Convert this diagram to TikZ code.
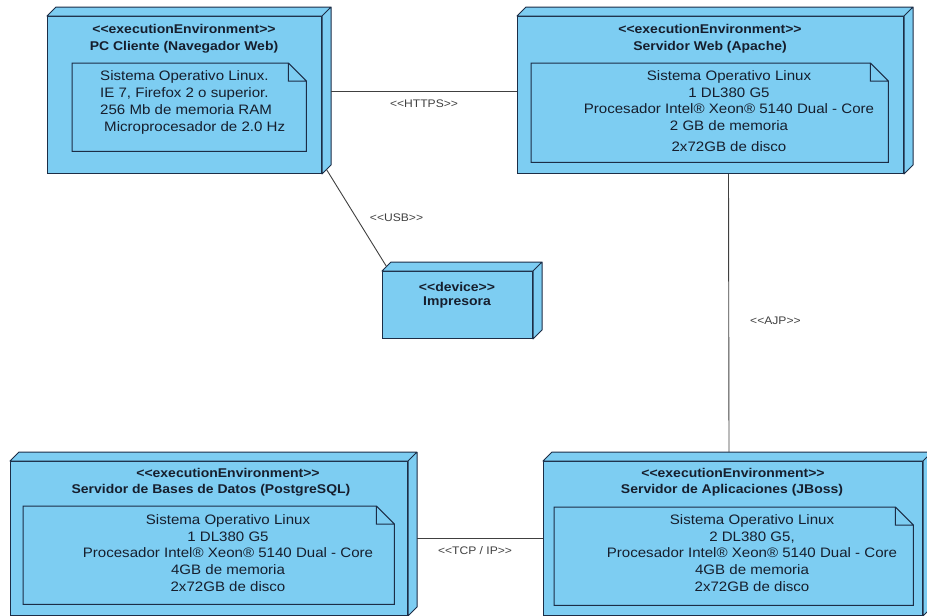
\documentclass[tikz,border=0pt]{standalone}
\usepackage{fontspec}
\setmainfont{Liberation Sans}[FakeStretch=1.1]
\usetikzlibrary{positioning}

\definecolor{nodeblue}{RGB}{125,205,242}
\definecolor{nodeline}{RGB}{28,45,70}
\definecolor{textdark}{RGB}{22,30,45}
\newcommand{\stereo}[1]{<{}<#1>{}>}

\begin{document}
\begin{tikzpicture}[
                  x = 1pt,
                  y = -1pt,
       devbox/.style = {draw=nodeline, fill=nodeblue, line width=1pt,
                        anchor=north west, inner sep=0pt},
      devside/.style = {draw=nodeline, fill=nodeblue, line width=1pt, line join=round},
      devnote/.style = {fill=nodeblue, anchor=north west, inner sep=0pt},
     devtitle/.style = {font=\bfseries\fontsize{12.7}{15}\selectfont, text=textdark, inner sep=0pt},
      devspec/.style = {font=\fontsize{13.7}{16.7}\selectfont, text=textdark, inner sep=0pt},
         conn/.style = {draw=black!75, line width=0.9pt},
    connlabel/.style = {font=\fontsize{11}{13}\selectfont, text=black!75, inner sep=1pt},
                    ]
\useasboundingbox (0,0) rectangle (927,616);

% nodes
\node[devbox, minimum width=274, minimum height=157] (pc)  at (47,16)   {};
\node[devbox, minimum width=386, minimum height=157] (web) at (517,16)  {};
\node[devbox, minimum width=150, minimum height=67]  (imp) at (382,271) {};
\node[devbox, minimum width=397, minimum height=154] (bd)  at (10,461)  {};
\node[devbox, minimum width=379, minimum height=154] (app) at (543,461) {};

\foreach \n in {pc,web,imp,bd,app}
    \draw[devside] (\n.north west) -- ++(9,-9) -- ([shift={(9,-9)}]\n.north east)
        -- ([shift={(9,-9)}]\n.south east) -- (\n.south east) -- (\n.north east) -- cycle
        (\n.north east) -- ++(9,-9);

% connectors
\draw[conn] ([xshift=9pt,yshift=3.5pt]pc.east) -- node[connlabel, below=7pt] {\stereo{HTTPS}} ([yshift=3.5pt]web.west);
\draw[conn] ([shift={(4.5,-4.5)}]pc.south east) -- node[connlabel, right=12pt] {\stereo{USB}} ([shift={(4.5,-4.5)}]imp.north west);
\draw[conn] ([xshift=18pt]web.south) -- node[connlabel, right=20pt, yshift=-8pt] {\stereo{AJP}} ([xshift=-4pt,yshift=9pt]app.north);
\draw[conn] ([xshift=9pt]bd.east) -- node[connlabel, below=7pt, xshift=-5pt] {\stereo{TCP / IP}} (app.west);

\node[devtitle] (pc-st)   at (184,29)  {\stereo{executionEnvironment}};
\node[devtitle] (pc-name) at (184,47)  {PC Cliente (Navegador Web)};
\node[devtitle] (web-st)   at (710,29) {\stereo{executionEnvironment}};
\node[devtitle] (web-name) at (710,47) {Servidor Web (Apache)};
\node[devtitle] (imp-st)   at (457,287) {\stereo{device}};
\node[devtitle] (imp-name) at (457,302) {Impresora};
\node[devtitle] (bd-st)   at (228,473) {\stereo{executionEnvironment}};
\node[devtitle] (bd-name) at (211,490) {Servidor de Bases de Datos (PostgreSQL)};
\node[devtitle] (app-st)   at (733,473) {\stereo{executionEnvironment}};
\node[devtitle] (app-name) at (732,490) {Servidor de Aplicaciones (JBoss)};

% notes
\node[devnote, minimum width=234, minimum height=88] (pc-note)  at (72,63)   {};
\node[devnote, minimum width=357, minimum height=99] (web-note) at (531,63)  {};
\node[devnote, minimum width=371, minimum height=98] (bd-note)  at (23,506)  {};
\node[devnote, minimum width=359, minimum height=98] (app-note) at (554,507) {};

\foreach \n in {pc-note,web-note,bd-note,app-note}
    \draw[nodeline, line width=1pt] (\n.north west) -- ([xshift=-18pt]\n.north east)
        -- ([yshift=-18pt]\n.north east) -- (\n.south east) -- (\n.south west) -- cycle
        ([xshift=-18pt]\n.north east) |- ([yshift=-18pt]\n.north east);

\node[devspec, anchor=west, align=left] (pc-spec) at (100,102.5)
    {Sistema Operativo Linux.\\IE 7, Firefox 2 o superior.\\256 Mb de memoria RAM\\\hspace{4pt}Microprocesador de 2.0 Hz};
\node[devspec, align=center] (web-spec) at (729,111)
    {Sistema Operativo Linux\\1 DL380 G5\\Procesador Intel® Xeon® 5140 Dual - Core\\2 GB de memoria\\[4pt]2x72GB de disco};
\node[devspec, align=center] (bd-spec) at (228,553)
    {Sistema Operativo Linux\\1 DL380 G5\\Procesador Intel® Xeon® 5140 Dual - Core\\4GB de memoria\\2x72GB de disco};
\node[devspec, align=center] (app-spec) at (752,553)
    {Sistema Operativo Linux\\2 DL380 G5,\\Procesador Intel® Xeon® 5140 Dual - Core\\4GB de memoria\\2x72GB de disco};
\end{tikzpicture}
\end{document}
